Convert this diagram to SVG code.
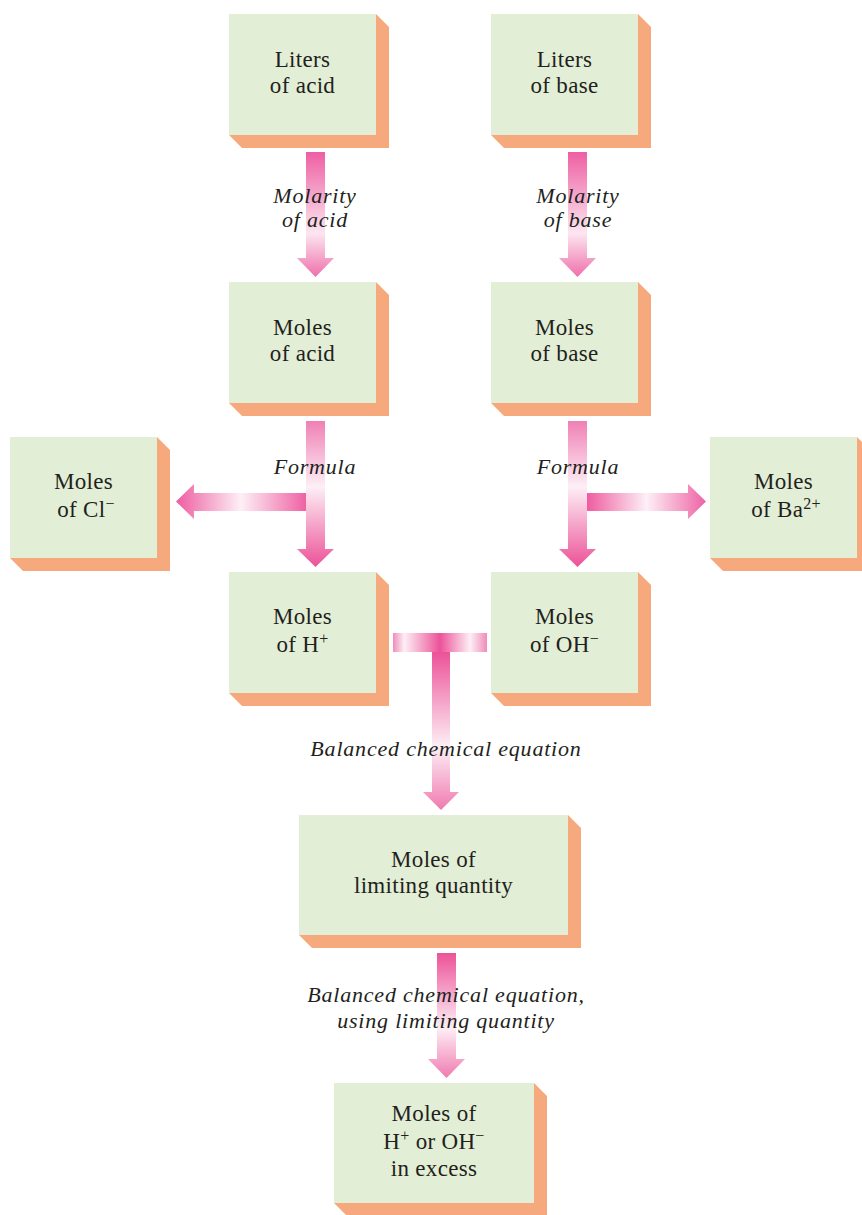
<svg xmlns="http://www.w3.org/2000/svg" width="862" height="1215" viewBox="0 0 862 1215">
  <style>
    .face { fill: #E2EED5; }
    .side { fill: #F7A97E; }
    .lbl { font-family: "Liberation Serif", "Times New Roman", serif; font-size: 23px; fill: #231F20; text-anchor: middle; letter-spacing: 0.3px; }
    .it { font-family: "Liberation Serif", "Times New Roman", serif; font-size: 22px; font-style: italic; fill: #231F20; text-anchor: middle; letter-spacing: 0.8px; }
    .sup { font-size: 16px; }
  </style>
  <defs>
    <linearGradient id="gDownA" x1="0" y1="0" x2="0" y2="1">
      <stop offset="0" stop-color="#EE5FA2"/>
      <stop offset="0.65" stop-color="#FCE6F0"/>
      <stop offset="1" stop-color="#EF6FAB"/>
    </linearGradient>
    <linearGradient id="gDownB" x1="0" y1="0" x2="0" y2="1">
      <stop offset="0" stop-color="#F080B5"/>
      <stop offset="0.45" stop-color="#FDEFF5"/>
      <stop offset="1" stop-color="#EC5298"/>
    </linearGradient>
    <linearGradient id="gSide" x1="0" y1="0" x2="1" y2="0">
      <stop offset="0" stop-color="#EE5CA0"/>
      <stop offset="0.5" stop-color="#FDF0F6"/>
      <stop offset="1" stop-color="#EE62A4"/>
    </linearGradient>
    <linearGradient id="gBar" x1="0" y1="0" x2="1" y2="0">
      <stop offset="0" stop-color="#F08CBB"/>
      <stop offset="0.12" stop-color="#FDEFF5"/>
      <stop offset="0.5" stop-color="#EC5298"/>
      <stop offset="0.82" stop-color="#FDEFF5"/>
      <stop offset="1" stop-color="#F08CBB"/>
    </linearGradient>
    <linearGradient id="gDownC" x1="0" y1="0" x2="0" y2="1">
      <stop offset="0" stop-color="#EC5298"/>
      <stop offset="0.6" stop-color="#FDEFF5"/>
      <stop offset="1" stop-color="#F07AB0"/>
    </linearGradient>
  </defs>

  <!-- connectors: wide gradient arrows -->
  <g id="connectors">
    <polygon fill="url(#gDownA)" points="306,152 325,152 325,258 334,258 315.5,277 297,258 306,258"/>
    <polygon fill="url(#gDownA)" points="568,152 587,152 587,258 596,258 577.5,277 559,258 568,258"/>
    <polygon fill="url(#gSide)" points="306,493 194,493 194,484 176,501.5 194,519 194,511 306,511"/>
    <polygon fill="url(#gSide)" points="587,493 688,493 688,484 706,501.5 688,519 688,511 587,511"/>
    <polygon fill="url(#gDownB)" points="306,421 325,421 325,549 334,549 315.5,567 297,549 306,549"/>
    <polygon fill="url(#gDownB)" points="568,421 587,421 587,549 596,549 577.5,567 559,549 568,549"/>
    <rect fill="url(#gBar)" x="393" y="633" width="94" height="19"/>
    <polygon fill="url(#gDownC)" points="432,652 450,652 450,792 459,792 441,810 423,792 432,792"/>
    <polygon fill="url(#gDownC)" points="437,953 456,953 456,1059 465,1059 446.5,1078 428,1059 437,1059"/>
  </g>

  <!-- connector labels -->
  <g id="connector-labels">
    <text class="it" x="315" y="203">Molarity</text>
    <text class="it" x="315" y="227">of acid</text>
    <text class="it" x="578" y="203">Molarity</text>
    <text class="it" x="578" y="227">of base</text>
    <text class="it" x="315" y="474">Formula</text>
    <text class="it" x="578" y="474">Formula</text>
    <text class="it" x="446" y="756">Balanced chemical equation</text>
    <text class="it" x="446" y="1002">Balanced chemical equation,</text>
    <text class="it" x="446" y="1028">using limiting quantity</text>
  </g>

  <g id="liters-acid">
    <polygon class="side" points="376,14 389,27 389,148 242,148 229,135"/>
    <rect class="face" x="229" y="14" width="147" height="121"/>
    <text class="lbl" x="302.5" y="67">Liters</text>
    <text class="lbl" x="302.5" y="93">of acid</text>
  </g>
  <g id="liters-base">
    <polygon class="side" points="638,14 651,27 651,148 504,148 491,135"/>
    <rect class="face" x="491" y="14" width="147" height="121"/>
    <text class="lbl" x="564.5" y="67">Liters</text>
    <text class="lbl" x="564.5" y="93">of base</text>
  </g>
  <g id="moles-acid">
    <polygon class="side" points="376,282 389,295 389,416 242,416 229,403"/>
    <rect class="face" x="229" y="282" width="147" height="121"/>
    <text class="lbl" x="302.5" y="335">Moles</text>
    <text class="lbl" x="302.5" y="361">of acid</text>
  </g>
  <g id="moles-base">
    <polygon class="side" points="638,282 651,295 651,416 504,416 491,403"/>
    <rect class="face" x="491" y="282" width="147" height="121"/>
    <text class="lbl" x="564.5" y="335">Moles</text>
    <text class="lbl" x="564.5" y="361">of base</text>
  </g>
  <g id="moles-cl">
    <polygon class="side" points="157,437 170,450 170,571 23,571 10,558"/>
    <rect class="face" x="10" y="437" width="147" height="121"/>
    <text class="lbl" x="83.5" y="489">Moles</text>
    <text class="lbl" x="86" y="517">of Cl<tspan class="sup" dy="-8">−</tspan></text>
  </g>
  <g id="moles-ba">
    <polygon class="side" points="857,437 870,450 870,571 723,571 710,558"/>
    <rect class="face" x="710" y="437" width="147" height="121"/>
    <text class="lbl" x="783.5" y="489">Moles</text>
    <text class="lbl" x="786" y="517">of Ba<tspan class="sup" dy="-8">2+</tspan></text>
  </g>
  <g id="moles-h">
    <polygon class="side" points="376,572 389,585 389,706 242,706 229,693"/>
    <rect class="face" x="229" y="572" width="147" height="121"/>
    <text class="lbl" x="302.5" y="624">Moles</text>
    <text class="lbl" x="302.5" y="652">of H<tspan class="sup" dy="-8">+</tspan></text>
  </g>
  <g id="moles-oh">
    <polygon class="side" points="638,572 651,585 651,706 504,706 491,693"/>
    <rect class="face" x="491" y="572" width="147" height="121"/>
    <text class="lbl" x="564.5" y="624">Moles</text>
    <text class="lbl" x="564.5" y="652">of OH<tspan class="sup" dy="-8">−</tspan></text>
  </g>
  <g id="moles-limiting">
    <polygon class="side" points="568,815 581,828 581,948 312,948 299,935"/>
    <rect class="face" x="299" y="815" width="269" height="120"/>
    <text class="lbl" x="433.5" y="867">Moles of</text>
    <text class="lbl" x="433.5" y="893">limiting quantity</text>
  </g>
  <g id="moles-excess">
    <polygon class="side" points="534,1083 547,1096 547,1216 347,1216 334,1203"/>
    <rect class="face" x="334" y="1083" width="200" height="120"/>
    <text class="lbl" x="434" y="1121">Moles of</text>
    <text class="lbl" x="434" y="1149">H<tspan class="sup" dy="-8">+</tspan><tspan dy="8"> or OH</tspan><tspan class="sup" dy="-8">−</tspan></text>
    <text class="lbl" x="434" y="1176">in excess</text>
  </g>
</svg>
